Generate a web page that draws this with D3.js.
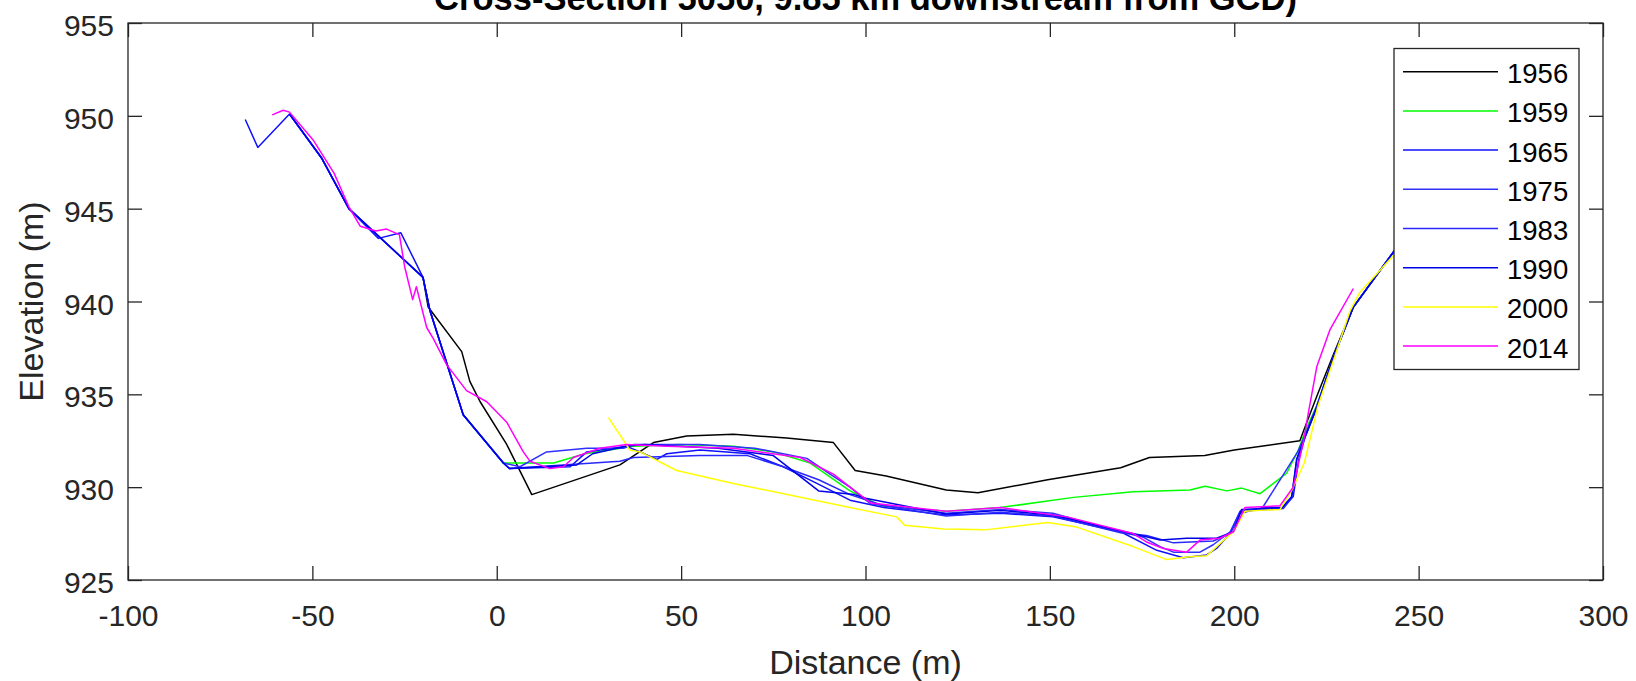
<!DOCTYPE html>
<html>
<head>
<meta charset="utf-8">
<script src="https://cdn.jsdelivr.net/npm/d3@7"></script>
<style>
    html, body { margin: 0; padding: 0; background: #fff; }
    svg text { font-family: "Liberation Sans", Arial, Helvetica, sans-serif; }
</style>
</head>
<body>
<div class="chart"></div>
<script>
// --- data (distance m, elevation m)
const years  = ["1956", "1959", "1965", "1975", "1983", "1990", "2000", "2014"];
const xTicks = [-100, -50, 0, 50, 100, 150, 200, 250, 300];
const yTicks = [925, 930, 935, 940, 945, 950, 955];

const s1956 = [
    [-20.0, 941.3], [-18.6, 939.7], [-9.5, 937.3], [-7.3, 935.7], [-4.5, 934.6], [2.7, 932.3], [9.5, 929.6],
    [33.4, 931.2], [42.5, 932.4], [51.5, 932.75], [64.2, 932.85], [78.6, 932.65], [91.3, 932.4], [97.2, 930.9],
    [105.6, 930.6], [121.9, 929.85], [130.5, 929.7], [149.4, 930.4], [169.2, 931.05], [177.0, 931.6],
    [192.0, 931.7], [200.0, 932.0], [217.8, 932.5], [219.5, 933.4], [222.6, 935.0], [227.0, 937.2],
    [232.3, 939.7], [243.3, 942.7], [255.0, 944.3]
];
const s1959 = [
    [-9.1, 933.9], [1.8, 931.3], [15.4, 931.3], [23.9, 931.8], [37.1, 932.2], [49.4, 932.3], [64.2, 932.2],
    [75.0, 931.9], [85.0, 931.3], [95.8, 929.8], [104.2, 929.0], [121.9, 928.7], [136.5, 928.9],
    [156.4, 929.45], [172.6, 929.75], [188.0, 929.85], [192.1, 930.05], [198.0, 929.8], [202.0, 929.95],
    [207.0, 929.65], [214.2, 930.75], [217.4, 932.0], [219.4, 933.1], [222.4, 934.4], [226.9, 937.0],
    [232.3, 939.7], [243.3, 942.7], [255.0, 944.3]
];
const s1965 = [
    [-68.2, 949.8], [-64.8, 948.3], [-56.2, 950.1], [-47.4, 947.7], [-40.1, 945.0], [-32.1, 943.4],
    [-26.0, 943.7], [-20.0, 941.3], [-18.1, 939.5], [-9.1, 933.9], [1.8, 931.3], [3.5, 931.0],
    [19.9, 931.1], [24.4, 931.9], [35.2, 932.2], [38.9, 931.9], [43.4, 931.5], [46.1, 931.8],
    [55.1, 932.0], [68.7, 931.8], [77.7, 931.1], [86.8, 930.2], [95.8, 929.3], [105.0, 928.9],
    [121.9, 928.5], [136.7, 928.6], [150.8, 928.4], [169.2, 927.6], [179.0, 926.6], [186.2, 926.2],
    [192.5, 926.35], [195.2, 926.7], [198.9, 927.5], [201.6, 928.6], [207.9, 928.9], [213.3, 928.9],
    [216.0, 929.5], [217.5, 931.5], [219.2, 932.7], [222.4, 934.3], [226.9, 937.0], [232.3, 939.7],
    [243.3, 942.7], [255.0, 944.3]
];
const s1975 = [
    [-56.2, 950.1], [-47.4, 947.7], [-40.1, 945.0], [-20.0, 941.3], [-18.1, 939.5], [-9.1, 933.9],
    [1.8, 931.3], [6.3, 931.1], [13.5, 931.9], [24.4, 932.1], [34.3, 932.1], [37.1, 932.3], [55.0, 932.3],
    [70.0, 932.1], [84.1, 931.55], [90.4, 930.7], [95.8, 930.0], [101.4, 929.1], [121.9, 928.6],
    [136.7, 928.8], [150.8, 928.6], [169.2, 927.6], [175.4, 927.3], [179.9, 926.8], [183.5, 926.5],
    [190.7, 926.5], [194.3, 926.9], [198.9, 927.6], [201.6, 928.7], [207.0, 928.8], [208.0, 929.0],
    [217.2, 931.9], [219.2, 932.8], [222.4, 934.4], [226.9, 937.0], [232.3, 939.7], [243.3, 942.7],
    [255.0, 944.3]
];
const s1983 = [
    [-56.2, 950.1], [-47.4, 947.7], [-40.1, 945.0], [-20.0, 941.3], [-18.1, 939.5], [-9.1, 933.9],
    [1.8, 931.3], [3.5, 931.0], [33.4, 931.4], [37.1, 931.6], [55.1, 931.7], [68.0, 931.7], [77.7, 931.1],
    [87.3, 930.4], [95.8, 929.6], [105.0, 929.0], [121.9, 928.45], [136.7, 928.65], [150.8, 928.45],
    [169.2, 927.55], [176.2, 927.4], [183.5, 927.0], [194.3, 927.1], [198.9, 927.5], [201.6, 928.7],
    [213.3, 928.85], [215.5, 929.4], [217.0, 931.5], [219.2, 932.7], [222.4, 934.3], [226.9, 937.0],
    [232.3, 939.7], [243.3, 942.7], [255.0, 944.3]
];
const s1990 = [
    [-56.2, 950.1], [-47.4, 947.7], [-40.1, 945.0], [-20.0, 941.3], [-18.1, 939.5], [-9.1, 933.9],
    [1.8, 931.3], [3.5, 931.0], [21.7, 931.2], [26.0, 931.8], [35.0, 932.2], [40.0, 932.3], [60.0, 932.1],
    [75.0, 931.7], [87.3, 929.8], [97.0, 929.6], [100.0, 929.4], [121.9, 928.55], [136.7, 928.75],
    [150.8, 928.5], [169.2, 927.65], [179.9, 927.15], [187.1, 927.25], [195.2, 927.25], [199.8, 927.6],
    [202.0, 928.8], [213.0, 928.9], [215.6, 929.5], [216.9, 931.5], [219.2, 932.7], [222.4, 934.3],
    [226.9, 937.0], [232.3, 939.7], [243.3, 942.7], [255.0, 944.3]
];
const s2000 = [
    [30.3, 933.75], [36.1, 932.0], [38.9, 931.9], [48.8, 930.9], [64.2, 930.2], [95.8, 928.9], [108.5, 928.4],
    [110.6, 927.95], [121.2, 927.75], [132.5, 927.7], [149.4, 928.1], [157.3, 927.85], [172.6, 926.8],
    [181.7, 926.1], [188.0, 926.25], [192.5, 926.3], [196.1, 926.95], [199.8, 927.6], [202.9, 928.7],
    [207.0, 928.75], [212.4, 928.8], [215.5, 929.8], [219.0, 931.3], [222.6, 934.3], [227.2, 937.0],
    [231.4, 939.5], [234.1, 940.5], [243.3, 942.5], [255.0, 944.2]
];
const s2014 = [
    [-60.9, 950.05], [-57.9, 950.3], [-56.2, 950.2], [-49.8, 948.7], [-44.1, 946.9], [-40.1, 945.1],
    [-37.0, 944.05], [-32.8, 943.8], [-29.9, 943.9], [-26.4, 943.6], [-25.0, 941.9], [-22.8, 940.1],
    [-21.8, 940.8], [-19.0, 938.6], [-17.2, 938.0], [-13.6, 936.6], [-8.2, 935.2], [-2.7, 934.6],
    [2.7, 933.5], [7.2, 931.9], [9.0, 931.4], [14.4, 931.0], [18.1, 931.1], [20.8, 931.6], [28.0, 932.1],
    [35.2, 932.3], [46.1, 932.2], [64.2, 932.1], [82.3, 931.6], [91.3, 930.7], [95.8, 930.0],
    [101.4, 929.15], [121.9, 928.7], [136.7, 928.9], [154.6, 928.4], [172.6, 927.5], [176.2, 927.05],
    [180.8, 926.7], [187.1, 926.5], [190.7, 927.15], [196.1, 927.25], [199.8, 927.6], [202.9, 928.9],
    [212.4, 929.0], [216.0, 930.0], [218.8, 932.5], [220.1, 934.0], [222.4, 936.5], [226.0, 938.5],
    [232.3, 940.7]
];

const series = [s1956, s1959, s1965, s1975, s1983, s1990, s2000, s2014];
const lineColors = ["#000000", "#00ff00", "#1010ff", "#3030ff", "#2828ff", "#0000e8", "#ffff00", "#ff00ff"];

// --- layout
const width = 1636, height = 681;
const margin = {left: 128, right: 1603, top: 23, bottom: 580};
const axisColor = "#262626";

const svg = d3.select(".chart").append("svg")
    .attr("width", width)
    .attr("height", height)
    .style("display", "block")
    .style("background", "#fff");

const x = d3.scaleLinear().domain([-100, 300]).range([margin.left, margin.right]);
const y = d3.scaleLinear().domain([925, 955]).range([margin.bottom, margin.top]);

// --- lines
svg.append("clipPath").attr("id", "plotclip")
    .append("rect")
    .attr("x", margin.left).attr("y", margin.top)
    .attr("width", margin.right - margin.left)
    .attr("height", margin.bottom - margin.top);

const line = d3.line().x(d => x(d[0])).y(d => y(d[1]));

svg.append("g")
    .attr("clip-path", "url(#plotclip)")
    .selectAll("path")
    .data(series)
    .enter().append("path")
    .attr("d", line)
    .attr("fill", "none")
    .attr("stroke", (d, i) => lineColors[i])
    .attr("stroke-width", 1.5)
    .attr("stroke-linejoin", "round");

// --- axes (ticks inside, box all round); plain hyphen for negatives like the original
const tickLen = 14;
const plainNum = d => String(d);

const bottomAxis = svg.append("g")
    .attr("transform", `translate(0, ${margin.bottom})`)
    .call(d3.axisBottom(x).tickValues(xTicks).tickFormat(plainNum)
        .tickSizeInner(-tickLen).tickSizeOuter(0).tickPadding(25));

const topAxis = svg.append("g")
    .attr("transform", `translate(0, ${margin.top})`)
    .call(d3.axisTop(x).tickValues(xTicks).tickSizeInner(-tickLen).tickSizeOuter(0).tickFormat(""));

const leftAxis = svg.append("g")
    .attr("transform", `translate(${margin.left}, 0)`)
    .call(d3.axisLeft(y).tickValues(yTicks).tickFormat(plainNum)
        .tickSizeInner(-tickLen).tickSizeOuter(0).tickPadding(14));

const rightAxis = svg.append("g")
    .attr("transform", `translate(${margin.right}, 0)`)
    .call(d3.axisRight(y).tickValues(yTicks).tickSizeInner(-tickLen).tickSizeOuter(0).tickFormat(""));

[bottomAxis, topAxis, leftAxis, rightAxis].forEach(function(a) {
    a.select(".domain").remove();
    a.selectAll(".tick line").attr("stroke", axisColor).attr("stroke-width", 1.3);
    a.selectAll(".tick text")
        .attr("fill", axisColor)
        .style("font-size", "30px")
        .style("font-family", '"Liberation Sans", Arial, sans-serif');
});
leftAxis.selectAll(".tick text").attr("dy", "0.42em");

svg.append("rect")
    .attr("x", margin.left).attr("y", margin.top)
    .attr("width", margin.right - margin.left)
    .attr("height", margin.bottom - margin.top)
    .attr("fill", "none")
    .attr("stroke", axisColor)
    .attr("stroke-width", 1.3);

// --- labels
svg.append("text")
    .attr("x", (margin.left + margin.right) / 2)
    .attr("y", 674)
    .attr("text-anchor", "middle")
    .attr("fill", axisColor)
    .style("font-size", "34px")
    .text("Distance (m)");

svg.append("text")
    .attr("transform", `translate(43, ${(margin.top + margin.bottom) / 2}) rotate(-90)`)
    .attr("text-anchor", "middle")
    .attr("fill", axisColor)
    .style("font-size", "34px")
    .text("Elevation (m)");

// title sits partly above the canvas, as in the original
svg.append("text")
    .attr("x", (margin.left + margin.right) / 2)
    .attr("y", 10)
    .attr("text-anchor", "middle")
    .attr("fill", "#000")
    .style("font-size", "34.5px")
    .style("font-weight", "bold")
    .text("Cross-Section 5050, 9.85 km downstream from GCD)");

// --- legend
const legend = svg.append("g").attr("class", "legend");

legend.append("rect")
    .attr("x", 1394).attr("y", 48.5)
    .attr("width", 185).attr("height", 321)
    .attr("fill", "#fff")
    .attr("stroke", axisColor)
    .attr("stroke-width", 1.3);

const rows = legend.selectAll(".row")
    .data(years)
    .enter().append("g")
    .attr("class", "row")
    .attr("transform", (d, i) => `translate(0, ${71.7 + i * 39.2})`);

rows.append("line")
    .attr("x1", 1403).attr("x2", 1498)
    .attr("y1", 0).attr("y2", 0)
    .attr("stroke", (d, i) => lineColors[i])
    .attr("stroke-width", 1.5);

rows.append("text")
    .attr("x", 1507)
    .attr("y", 11.5)
    .attr("fill", "#000")
    .style("font-size", "27.5px")
    .text(d => d);
</script>
</body>
</html>
